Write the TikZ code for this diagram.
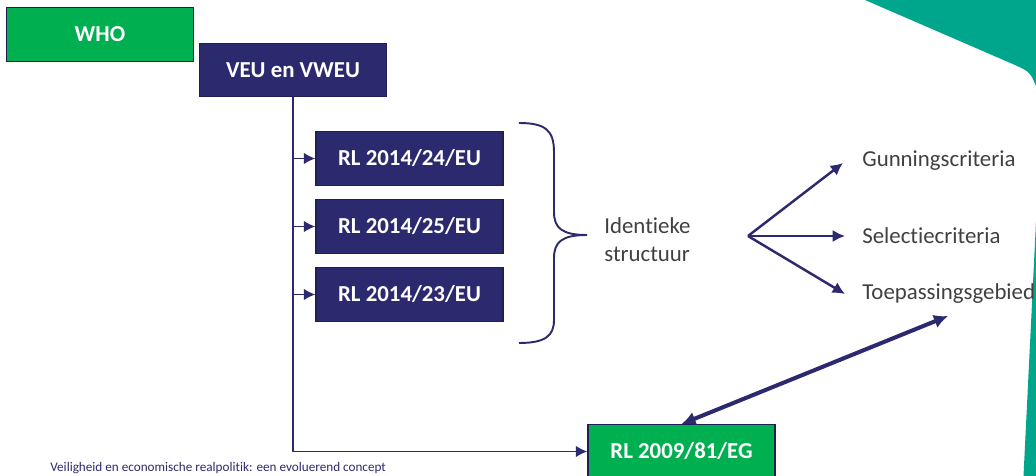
\documentclass[tikz,border=0pt]{standalone}
\usepackage{fontspec}
\setmainfont{Carlito}[Ligatures=NoCommon]
\usetikzlibrary{calc,arrows.meta,positioning}
\definecolor{navy}{HTML}{2C2A6E}
\definecolor{navyline}{HTML}{1F1E55}
\definecolor{who green}{HTML}{00B050}
\definecolor{teal band}{HTML}{00A68C}
\definecolor{grey text}{HTML}{404040}
\tikzset{
  box/.style={draw=navyline, line width=0.8pt, text=white, font=\fontsize{13}{15}\selectfont\bfseries,
    minimum width=3.74cm, minimum height=1.07cm, inner sep=0pt},
  navybox/.style={box, fill=navy},
  greenbox/.style={box, fill=who green},
  conn/.style={navy, line width=0.9pt, -{Latex[length=6.5pt,width=6.5pt]}},
  fan/.style={navy, line width=1.4pt, -{Latex[length=7pt,width=7pt]}},
  item/.style={anchor=west, inner sep=0pt, text=grey text, font=\fontsize{13}{15}\selectfont}
}

\begin{document}
\begin{tikzpicture}[x=0.02cm, y=-0.02cm]
\useasboundingbox (0,0) rectangle (1036,476);
\clip (0,0) rectangle (1036,476);
%background bands
\fill[teal band] (865,0) -- (1015,65) .. controls (1030,72) .. (1036,86) -- (1036,0) -- cycle;
\fill[teal band] (1036,222) -- (1023.5,476) -- (1036,476) -- cycle;

%boxes
\node[greenbox] (who) at (100,34.5) {WHO};
\node[navybox] (veu) at (293,70) {VEU en VWEU};
\node[navybox] (rl24) at (409.5,158.5) {RL 2014/24/EU};
\node[navybox] (rl25) at (409.5,226.5) {RL 2014/25/EU};
\node[navybox] (rl23) at (409.5,294.5) {RL 2014/23/EU};
\node[greenbox] (rl09) at (681.5,451.5) {RL 2009/81/EG};

%tree from VEU
\draw[conn] (veu.south) -- (veu |- rl09) -- (rl09.west);
\foreach \b in {rl24,rl25,rl23} {\draw[conn] (veu |- \b) -- (\b.west);}

%brace
\coordinate (tip) at (587,235);
\draw[navy, line width=1.1pt] (519,123) .. controls (545,123) and (554,130) .. (554,152)
  -- (554,212) .. controls (554,228) and (562,235) .. (tip)
  .. controls (562,235) and (554,242) .. (554,258)
  -- (554,320) .. controls (554,336) and (545,343) .. (519,343);
\node[item, align=left, font=\fontsize{13}{16}\selectfont] (ident) at (604,240) {Identieke\\structuur};

%fan
\coordinate (fork) at (748,236);
\node[item] (gun) at (862,161) {Gunningscriteria};
\node[item] (sel) at (862,236) {Selectiecriteria};
\node[item] (toe) at (862,294) {Toepassingsgebied};
\draw[fan] (fork) -- ($(gun.west)+(-19,2)$);
\draw[fan] (fork) -- ($(sel.west)+(-17,0)$);
\draw[fan] (fork) -- ($(toe.west)+(-17,0)$);

\draw[navy, line width=2.3pt, {Latex[length=8pt,width=8pt]}-{Latex[length=8pt,width=8pt]}]
  (rl09.north) -- ($(toe.west)+(86,22)$);

%footer
\node[anchor=south west, inner sep=0pt, text=navy, font=\fontsize{7.5}{9}\selectfont] (foot) at (50,474)
  {Veiligheid en economische realpolitik: een evoluerend concept};
\end{tikzpicture}
\end{document}
